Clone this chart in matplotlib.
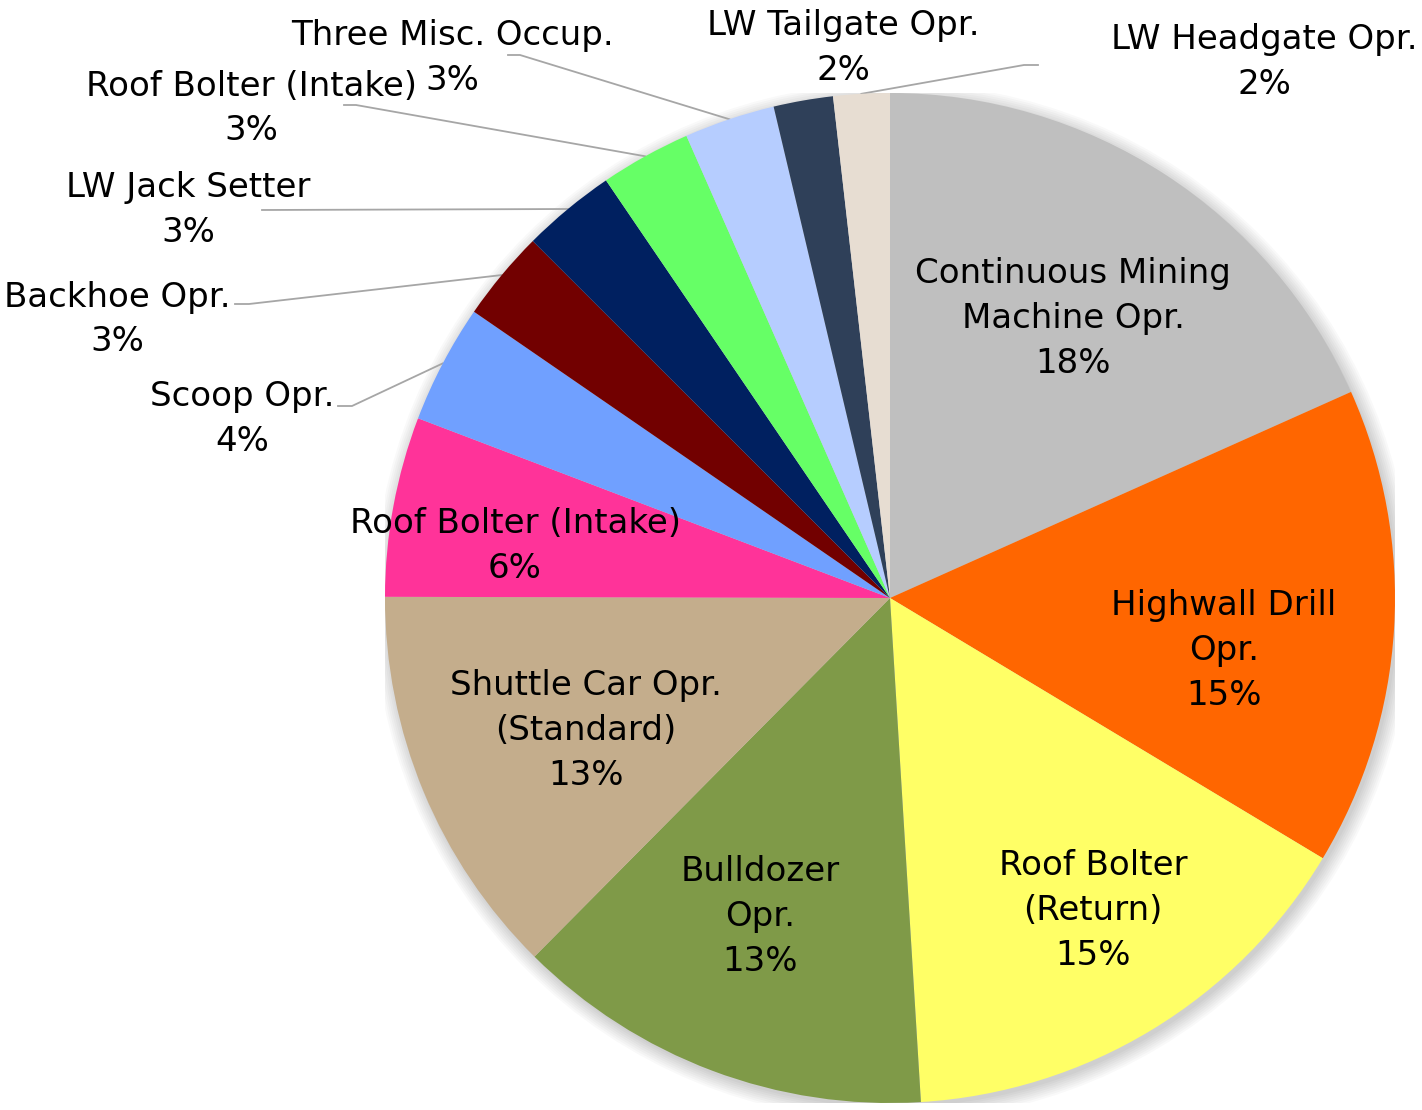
import numpy as np
import matplotlib.pyplot as plt
from matplotlib.patches import Circle


# slice values (percent of total), clockwise from 12 o'clock
occupations = ['Continuous Mining\nMachine Opr.', 'Highwall Drill\nOpr.', 'Roof Bolter\n(Return)',
               'Bulldozer\nOpr.', 'Shuttle Car Opr.\n(Standard)', 'Roof Bolter (Intake)',
               'Scoop Opr.', 'Backhoe Opr.', 'LW Jack Setter', 'Roof Bolter (Intake)',
               'Three Misc. Occup.', 'LW Tailgate Opr.', 'LW Headgate Opr.']
shares = [18.3, 15.3, 15.4, 13.4, 12.6, 5.75, 3.8, 2.9, 3.0, 2.9, 2.9, 1.9, 1.8]
colors = ['#BFBFBF', '#FF6600', '#FFFF66', '#7F9A48', '#C4AD8C', '#FF3399', '#70A0FF',
          '#720000', '#002060', '#66FF66', '#B6CDFF', '#2F4059', '#E7DDD2']

# label centres, in pixels of the original image (layout only)
label_px = [(1073, 315), (1224, 647), (1093, 907), (760, 913), (586, 727), (515, 543),
            (242, 416), (117, 316), (188, 206), (251, 105), (452, 55), (843, 44), (1264, 59)]
# leader line start points (label side), None = no leader
leader_px = [None, None, None, None, None, None,
             [(338, 406), (352, 406)], [(235, 304), (249, 304)], [(262, 210)],
             [(344, 105), (356, 105)], [(508, 55), (520, 55)], None,
             [(1038, 65), (1024, 65)]]

CX, CY, R = 890, 598, 505
W, H = 1422, 1110
LINE_GAP = 45  # px between label lines


def px(p):
  return ((p[0]-CX)/R, (CY-p[1])/R)


def main():
  fig = plt.figure(figsize=(W/100, H/100), dpi=100)
  ax = fig.add_axes([(CX-R)/W, (H-CY-R)/H, 2*R/W, 2*R/H])

  # soft shadow around the pie
  for k in range(8):
    ax.add_patch(Circle((0.006, -0.008), 1.0 + 0.004*k, color='black',
                        alpha=0.025, lw=0, zorder=0))

  wedges, _ = ax.pie(shares, colors=colors, startangle=90, counterclock=False,
                     radius=1, wedgeprops=dict(linewidth=0))
  for w in wedges:
    w.set_zorder(2)
  ax.set_xlim(-1, 1)
  ax.set_ylim(-1, 1)
  ax.set_aspect('equal')
  ax.axis('off')

  for i, w in enumerate(wedges):
    lines = occupations[i].split('\n') + ['%d%%' % round(shares[i])]
    n = len(lines)
    for j, s in enumerate(lines):
      cx, cy = label_px[i]
      x, y = px((cx, cy + (j - (n-1)/2.)*LINE_GAP))
      ax.text(x, y, s, ha='center', va='center_baseline', fontsize=24.5,
              color='black', zorder=5, clip_on=False)
    if leader_px[i] is not None:
      mid = np.deg2rad((w.theta1 + w.theta2)/2.)
      pts = [px(p) for p in leader_px[i]] + [(np.cos(mid), np.sin(mid))]
      pts = np.array(pts)
      ax.plot(pts[:, 0], pts[:, 1], color='#A6A6A6', lw=1.3, zorder=1, clip_on=False)

  plt.savefig('out.png', dpi=100)


if __name__ == "__main__":
  main()
